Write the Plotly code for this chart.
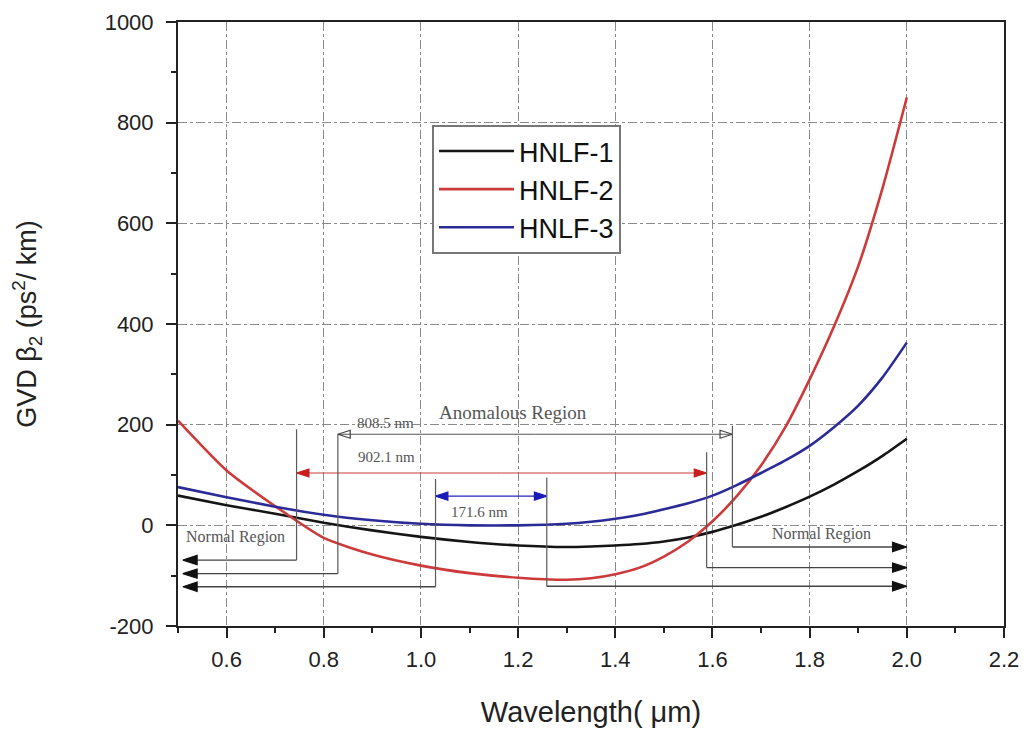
import plotly.graph_objects as go

# ---------------- data ----------------
wavelength = [0.5, 0.6, 0.7, 0.8, 0.9, 1.0, 1.1, 1.2, 1.3, 1.35, 1.4, 1.45, 1.5, 1.55, 1.6, 1.65, 1.7, 1.75, 1.8, 1.85, 1.9, 1.95, 2.0]
hnlf1 = [59, 40, 23, 5, -10, -23, -33, -40, -43, -42, -40, -37, -32, -24, -13, 1, 17, 36, 57, 81, 108, 138, 172]
hnlf2 = [208, 109, 38, -25, -58, -80, -95, -104, -108, -105, -97, -84, -62, -32, 8, 58, 119, 195, 290, 395, 515, 670, 850]
hnlf3 = [76, 56, 37, 21, 10, 3, 0, 0, 3, 7, 13, 21, 32, 44, 59, 80, 104, 129, 158, 195, 238, 294, 363]

series_names = ["HNLF-1", "HNLF-2", "HNLF-3"]
series_values = [hnlf1, hnlf2, hnlf3]
series_colors = ["#151515", "#cc3a3a", "#2b2b98"]

# zero-dispersion boundaries (µm) and their span labels
zdw_left = [0.829, 0.744, 1.030]
zdw_right = [1.641, 1.588, 1.259]
span_labels = ["808.5 nm", "902.1 nm", "171.6 nm"]

x_ticks = [0.6, 0.8, 1.0, 1.2, 1.4, 1.6, 1.8, 2.0, 2.2]
y_ticks = [-200, 0, 200, 400, 600, 800, 1000]

# ---------------- annotation layout (positions in data units) ----------------
span_y = [181, 104, 58]          # level of the span arrows
left_top = [181, 191, 92]        # top of left bracket legs
right_top = [198, 145, 95]       # top of right bracket legs
left_leader_y = [-96, -69, -122]
right_leader_y = [-43, -84, -121]
span_colors = ["#555555", "#cc3a3a", "#2424b8"]
span_head_colors = ["#444444", "#c81e1e", "#1a1ab8"]
span_symbols = ["arrow-open", "arrow", "arrow"]
span_text_pos = [(0.928, 203), (0.930, 135), (1.120, 26)]
leader_tip_left = 0.51
leader_tip_right = 2.0

fig = go.Figure()
for name, vals, col in zip(series_names, series_values, series_colors):
    fig.add_trace(go.Scatter(
        x=wavelength, y=vals, name=name, mode="lines",
        line=dict(color=col, width=2.6, shape="spline", smoothing=0.6),
    ))


def add_arrow(x_tail, x_tip, y, color, head_color, symbol="arrow", size=15, width=1.3):
    fig.add_trace(go.Scatter(
        x=[x_tail, x_tip], y=[y, y], mode="lines+markers", showlegend=False,
        hoverinfo="skip",
        line=dict(color=color, width=width),
        marker=dict(symbol=["circle", symbol], size=[0, size], angleref="previous",
                    color=head_color, opacity=1, line=dict(color=head_color, width=1.2)),
    ))


bracket_color = "#5a5a5a"
for i in range(3):
    # bracket legs
    fig.add_shape(type="line", xref="x", yref="y",
                  x0=zdw_left[i], x1=zdw_left[i], y0=left_top[i], y1=left_leader_y[i],
                  line=dict(color=bracket_color, width=1.2))
    fig.add_shape(type="line", xref="x", yref="y",
                  x0=zdw_right[i], x1=zdw_right[i], y0=right_top[i], y1=right_leader_y[i],
                  line=dict(color=bracket_color, width=1.2))
    # leaders to the normal regions
    add_arrow(zdw_left[i], leader_tip_left, left_leader_y[i], "#444444", "#111111")
    add_arrow(zdw_right[i], leader_tip_right, right_leader_y[i], "#444444", "#111111")
    # span arrows (double headed, drawn from the middle outwards)
    mid = (zdw_left[i] + zdw_right[i]) / 2
    add_arrow(mid, zdw_left[i], span_y[i], span_colors[i], span_head_colors[i], span_symbols[i], 13, 1.2)
    add_arrow(mid, zdw_right[i], span_y[i], span_colors[i], span_head_colors[i], span_symbols[i], 13, 1.2)
    fig.add_annotation(x=span_text_pos[i][0], y=span_text_pos[i][1], text=span_labels[i],
                       showarrow=False, xref="x", yref="y",
                       font=dict(family="Liberation Serif", size=15, color="#555555"))

fig.add_annotation(x=1.189, y=224, text="Anomalous Region", showarrow=False, xref="x", yref="y",
                   font=dict(family="Liberation Serif", size=19, color="#555555"))
fig.add_annotation(x=0.618, y=-23, text="Normal Region", showarrow=False, xref="x", yref="y",
                   font=dict(family="Liberation Serif", size=16, color="#555555"))
fig.add_annotation(x=1.824, y=-18, text="Normal Region", showarrow=False, xref="x", yref="y",
                   font=dict(family="Liberation Serif", size=16, color="#555555"))

axis_common = dict(
    showline=True, linewidth=2, linecolor="#222222", mirror=True,
    ticks="outside", ticklen=10, tickwidth=2, tickcolor="#222222",
    showgrid=True, gridcolor="#8a8a8a", gridwidth=1, griddash="dashdot",
    zeroline=False, automargin=False,
)

fig.update_xaxes(
    range=[0.5, 2.2], tickvals=x_ticks, ticktext=[f"{v:.1f}" for v in x_ticks],
    tickfont=dict(family="Liberation Sans", size=22, color="#222222"),
    ticklabelstandoff=3,
    minor=dict(dtick=0.1, tick0=0.5, ticks="outside", ticklen=5, tickwidth=2,
               tickcolor="#222222", showgrid=False),
    title=dict(text="Wavelength( μm)", font=dict(family="Liberation Sans", size=29, color="#222222"),
               standoff=30),
    **axis_common,
)
fig.update_yaxes(
    range=[-200, 1000], tickvals=y_ticks, ticktext=[str(v) for v in y_ticks],
    tickfont=dict(family="Liberation Sans", size=22, color="#222222"),
    ticklabelstandoff=8,
    minor=dict(dtick=100, tick0=0, ticks="outside", ticklen=5, tickwidth=2,
               tickcolor="#222222", showgrid=False),
    title=dict(text="GVD β<sub>2</sub> (ps<sup>2</sup>/ km)",
               font=dict(family="Liberation Sans", size=27, color="#222222"), standoff=60),
    **axis_common,
)

fig.update_layout(
    width=1019, height=726, autosize=False,
    margin=dict(l=170, r=23, t=14, b=108),
    paper_bgcolor="white", plot_bgcolor="white",
    showlegend=True,
    legend=dict(x=0.3075, y=0.8295, xanchor="left", yanchor="top",
                bgcolor="white", bordercolor="#777777", borderwidth=2,
                font=dict(family="Liberation Sans", size=27, color="#111111"),
                itemwidth=75, tracegroupgap=0),
)

fig.write_html("out.html")
